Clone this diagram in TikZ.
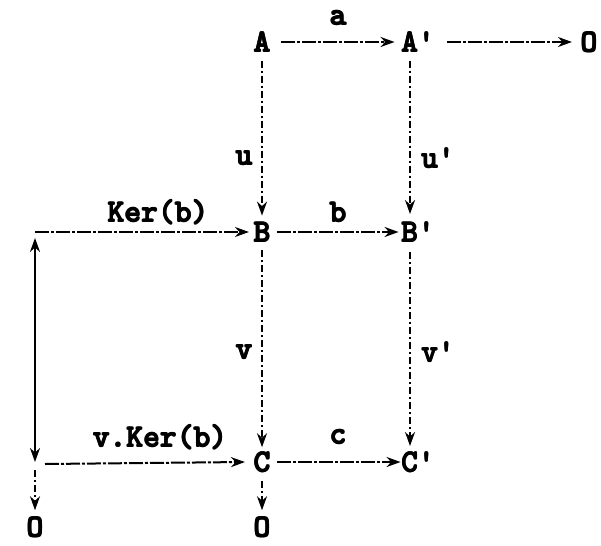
\documentclass[tikz,border=0pt]{standalone}
\usepackage{fontspec}
\usetikzlibrary{arrows.meta}
\newcommand\hv[1]{\makebox[0pt][l]{#1}\makebox[0pt][l]{\raisebox{0.9pt}{#1}}\makebox[0pt][l]{\hspace{0.9pt}#1}\hspace{0.9pt}\raisebox{0.9pt}{#1}}
\begin{document}
\begin{tikzpicture}[x=1pt,y=-1pt,
  every node/.style={font=\fontsize{32}{34}\selectfont\ttfamily\bfseries, inner sep=0pt},
  obj/.style={},
  lbl/.style={},
  typeline/.style={line width=2pt, dash pattern=on 14pt off 2pt on 3pt off 2pt,
     -{Stealth[length=14pt,width=10pt]}},
  vline/.style={line width=1.7pt, dash pattern=on 7pt off 3pt on 2pt off 3pt,
     -{Stealth[length=14pt,width=10pt]}},
  dbl/.style={line width=2.2pt, {Stealth[length=14pt,width=10pt]}-{Stealth[length=14pt,width=10pt]}}
]
\useasboundingbox (0,0) rectangle (601,545);
% objects
\node[obj] (A)  at (262,42)  {\hv{A}};
\node[obj] (Ap) at (418,42)  {\hv{A\textquotesingle}};
\node[obj] (O1) at (589,42)  {\hv{O}};
\node[obj] (B)  at (262,232) {\hv{B}};
\node[obj] (Bp) at (418,232) {\hv{B\textquotesingle}};
\node[obj] (C)  at (262,462) {\hv{C}};
\node[obj] (Cp) at (418,462) {\hv{C\textquotesingle}};
\node[obj] (O2) at (35,527)  {\hv{O}};
\node[obj] (O3) at (262,527) {\hv{O}};
\coordinate (P1) at (35,232);
\coordinate (P2) at (35,464);
% horizontal arrows
\draw[typeline] ([xshift=10pt]A.east) -- ([xshift=-6pt]Ap.west);
\draw[typeline] ([xshift=12pt]Ap.east) -- ([xshift=-8pt]O1.west);
\draw[typeline] (P1) -- ([xshift=-4pt]B.west);
\draw[typeline] ([xshift=6pt]B.east) -- ([xshift=-2pt]Bp.west);
\draw[typeline] ([xshift=10pt]P2) -- ([xshift=-8pt]C.west);
\draw[typeline] ([xshift=6pt]C.east) -- ([xshift=0pt]Cp.west);
% vertical arrows
\draw[vline] ([yshift=-8pt]A.south) -- ([yshift=6pt]B.north);
\draw[vline] ([yshift=-8pt]Ap.south -| 410,0) -- (410,214);
\draw[vline] ([yshift=-8pt]B.south) -- ([yshift=4pt]C.north);
\draw[vline] (410,252) -- (410,446);
\draw[vline] ([yshift=-8pt]C.south) -- ([yshift=6pt]O3.north);
\draw[vline] ([yshift=-6pt]P2) -- ([yshift=6pt]O2.north);
\draw[dbl] ([yshift=-6pt]P1) -- ([yshift=2pt]P2);
% labels
\node[lbl] (la) at (338,18)  {\hv{a}};
\node[lbl] (lu) at (244,158) {\hv{u}};
\node[lbl] (lup) at (438,158) {\hv{u\textquotesingle}};
\node[lbl] (lk) at (158,212) {\hv{Ker(b)}};
\node[lbl] (lb) at (338,212) {\hv{b}};
\node[lbl] (lv) at (244,352) {\hv{v}};
\node[lbl] (lvp) at (438,352) {\hv{v\textquotesingle}};
\node[lbl] (lvk) at (160,437) {\hv{v.Ker(b)}};
\node[lbl] (lc) at (338,437) {\hv{c}};
\end{tikzpicture}
\end{document}
